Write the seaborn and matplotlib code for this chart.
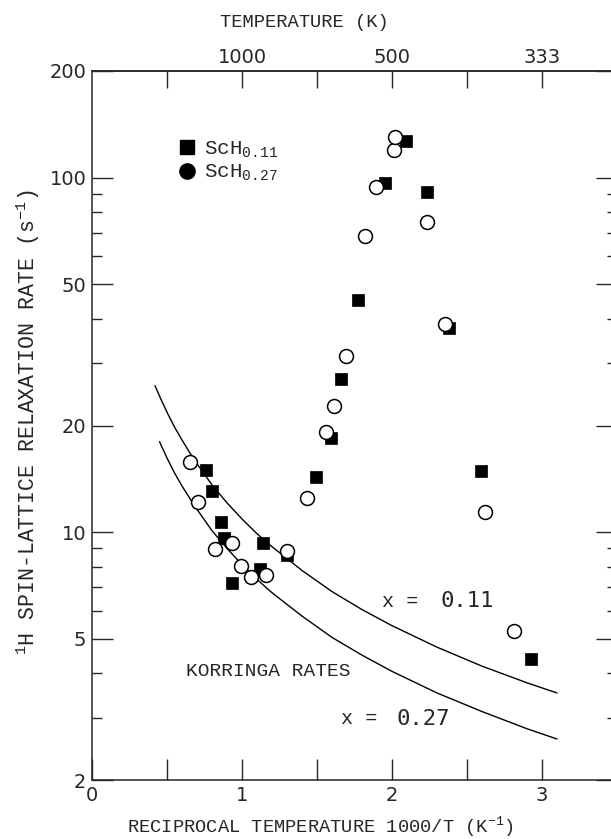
import numpy as np
import pandas as pd
import matplotlib
matplotlib.use("Agg")
import matplotlib.pyplot as plt
import seaborn as sns
from matplotlib.lines import Line2D
from matplotlib.ticker import NullFormatter

# ---------------- data ----------------
# ScH0.11 (filled squares)
sq_x = [0.76, 0.80, 0.86, 0.88, 0.93, 1.12, 1.14, 1.30, 1.49, 1.59, 1.66, 1.77,
        1.95, 2.09, 2.23, 2.38, 2.59, 2.925]
sq_y = [15.0, 13.1, 10.7, 9.6, 7.2, 7.9, 9.3, 8.6, 14.3, 18.5, 27.0, 45.3,
        96.9, 127, 91.4, 37.6, 14.9, 4.4]

# ScH0.27 (open circles)
ci_x = [0.653, 0.705, 0.82, 0.93, 0.995, 1.058, 1.16, 1.30, 1.435, 1.56, 1.61,
        1.69, 1.82, 1.89, 2.015, 2.02, 2.23, 2.355, 2.62, 2.815]
ci_y = [15.8, 12.2, 8.95, 9.3, 8.03, 7.5, 7.55, 8.85, 12.5, 19.2, 22.7,
        31.5, 68.6, 94.1, 120, 130, 75, 38.6, 11.4, 5.27]

# Korringa rate curves
k011_x = [0.42, 0.46, 0.5, 0.55, 0.6, 0.65, 0.7, 0.8, 0.9, 1.0, 1.1, 1.2, 1.4,
          1.6, 1.8, 2.0, 2.3, 2.6, 2.9, 3.1]
k011_y = [25.9, 23.7, 21.8, 19.8, 18.2, 16.8, 15.6, 13.6, 12.1, 10.9, 9.9, 9.1,
          7.8, 6.8, 6.05, 5.45, 4.74, 4.19, 3.76, 3.52]
k027_x = [0.45, 0.5, 0.55, 0.6, 0.65, 0.7, 0.8, 0.9, 1.0, 1.1, 1.2, 1.4, 1.6,
          1.8, 2.0, 2.3, 2.6, 2.9, 3.1]
k027_y = [18.0, 16.2, 14.7, 13.5, 12.5, 11.6, 10.1, 9.0, 8.1, 7.36, 6.75, 5.8,
          5.05, 4.5, 4.05, 3.52, 3.12, 2.79, 2.61]

# axis ticks
y_major = [2, 5, 10, 20, 50, 100, 200]
y_minor = [3, 4, 6, 7, 8, 9, 30, 40, 60, 70, 80, 90]
x_major = [0, 1, 2, 3]
x_minor = [0.5, 1.5, 2.5]
top_ticks = [0.5, 1, 1.5, 2, 2.5, 3]
top_labels = ["", "1000", "", "500", "", "333"]

# ---------------- style ----------------
sns.set_style("ticks")
mono = "Liberation Mono"
plt.rcParams["font.family"] = ["DejaVu Sans"]
plt.rcParams["mathtext.fontset"] = "custom"
plt.rcParams["mathtext.rm"] = mono
plt.rcParams["mathtext.it"] = mono
plt.rcParams["mathtext.bf"] = mono
plt.rcParams["axes.linewidth"] = 1.1

fig = plt.figure(figsize=(6.11, 8.39), dpi=100)
ax = fig.add_axes([92 / 611, 59 / 839, 525 / 611, 709 / 839])

# Korringa curves
sns.lineplot(x=k011_x, y=k011_y, ax=ax, color="black", lw=1.0, sort=False, estimator=None)
sns.lineplot(x=k027_x, y=k027_y, ax=ax, color="black", lw=1.0, sort=False, estimator=None)

# data points
sns.scatterplot(x=sq_x, y=sq_y, ax=ax, marker="s", s=80, color="black",
                edgecolor="black", linewidth=0.5, zorder=3)
sns.scatterplot(x=ci_x, y=ci_y, ax=ax, marker="o", s=100, color="white",
                edgecolor="black", linewidth=1.1, zorder=4)

ax.set_yscale("log")
ax.set_xlim(0, 3.5)
ax.set_ylim(2, 200)

ax.set_yticks(y_major, labels=[str(v) for v in y_major])
ax.set_yticks(y_minor, minor=True)
ax.yaxis.set_minor_formatter(NullFormatter())
ax.set_xticks(x_major, labels=[str(v) for v in x_major])
ax.set_xticks(x_minor, minor=True)

ax.tick_params(axis="both", which="both", direction="in", labelsize=14, width=1.0,
               pad=4, right=True)
ax.tick_params(axis="y", which="major", length=15)
ax.tick_params(axis="y", which="minor", length=7.5)
ax.tick_params(axis="x", which="both", length=15)

# top temperature axis
sec = ax.secondary_xaxis("top")
sec.set_xticks(top_ticks, labels=top_labels)
sec.tick_params(direction="in", length=12.5, width=1.0, labelsize=14, pad=3)
sec.set_xlabel("TEMPERATURE (K)", family=mono, fontsize=13.5)
sec.xaxis.set_label_coords(0.405, 1.062, transform=ax.transAxes)

ax.set_xlabel(r"RECIPROCAL TEMPERATURE 1000/T (K$^{-1}$)", family=mono, fontsize=13.5)
ax.xaxis.set_label_coords(0.435, -0.048)
ax.set_ylabel(r"$^{1}$H SPIN-LATTICE RELAXATION RATE (s$^{-1}$)", family=mono, fontsize=15.5)
ax.yaxis.set_label_coords(-0.095, 0.505)

# annotations ("x =" typewritten, numbers in a sans face like the original)
ax.text(1.93, 6.38, "x =", family=mono, fontsize=14.5, va="center")
ax.text(2.32, 6.38, "0.11", family="DejaVu Sans Mono", fontsize=16, va="center")
ax.text(0.63, 4.05, "KORRINGA RATES", family=mono, fontsize=14, va="center")
ax.text(1.66, 2.98, "x =", family=mono, fontsize=14.5, va="center")
ax.text(2.03, 2.98, "0.27", family="DejaVu Sans Mono", fontsize=16, va="center")

# legend
handles = [Line2D([], [], marker="s", ls="none", color="black", ms=10),
           Line2D([], [], marker="o", ls="none", color="black", ms=11)]
ax.legend(handles, [r"ScH$_{0.11}$", r"ScH$_{0.27}$"], loc="upper left",
          bbox_to_anchor=(0.143, 0.915), frameon=False, prop={"family": mono, "size": 15},
          handletextpad=0.25, labelspacing=0.15, borderaxespad=0, handlelength=1.1)

fig.savefig("out.png", dpi=100, facecolor="white")
